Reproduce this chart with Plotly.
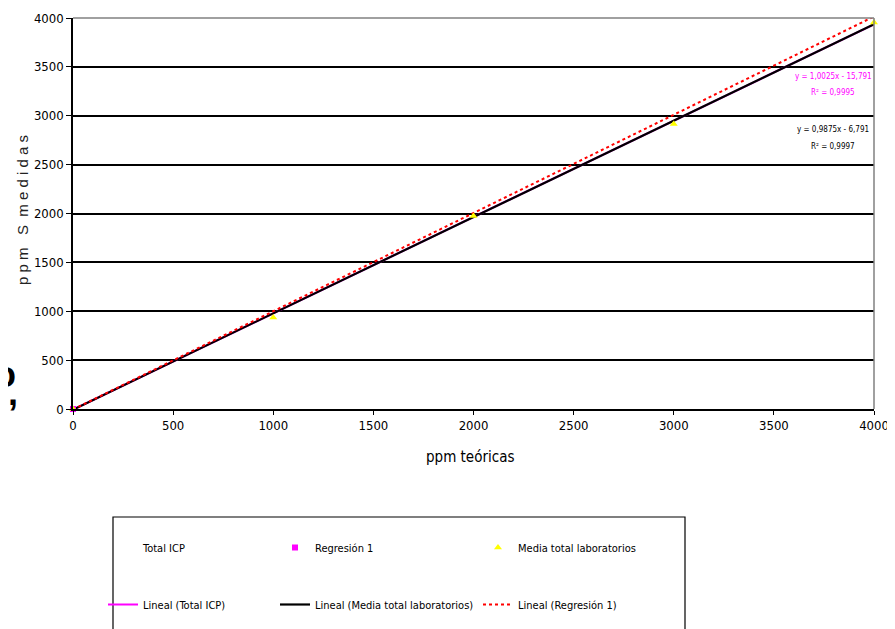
import plotly.graph_objects as go

# ---- data ----
x_points = [0, 1000, 2000, 3000, 4000]
total_icp = [0, 935, 1975, 2915, 3955]
regresion1_x = [0, 4000]
regresion1_y = [0, 4010]
media_total = [0, 935, 1975, 2915, 3955]

trend_x = [0, 4000]
lin_icp = [-7, 3935]
lin_media = [-7, 3935]
lin_regresion = [-5, 4015]

eq_reg = ["y = 1,0025x - 15,791", "R² = 0,9995"]
eq_media = ["y = 0,9875x - 6,791", "R² = 0,9997"]

x_ticks = [0, 500, 1000, 1500, 2000, 2500, 3000, 3500, 4000]
y_ticks = [0, 500, 1000, 1500, 2000, 2500, 3000, 3500, 4000]

FONT = "DejaVu Sans Condensed, Liberation Sans Narrow, Arial Narrow, Liberation Sans, sans-serif"

# page has an 8px body margin, so the figure is shifted by 8px
OFF = 8
W, H = 895 - OFF, 629 - OFF
L, R, T = 73 - OFF, 21, 18 - OFF
B = H - (409 - OFF)
PW = W - L - R
PH = H - T - B

def px2x(px):
    # page pixel -> paper x
    return (px - OFF - L) / PW

def px2y(py):
    # page pixel -> paper y
    return (H - B - (py - OFF)) / PH

fig = go.Figure()

fig.add_trace(go.Scatter(x=x_points, y=total_icp, mode="markers", name="Total ICP",
                         marker=dict(color="rgba(0,0,0,0)", size=6, symbol="square"),
                         legend="legend", legendgroup="a", legendrank=1, cliponaxis=False))
fig.add_trace(go.Scatter(x=trend_x, y=lin_icp, mode="lines", name="Lineal (Total ICP)",
                         line=dict(color="#ff00ff", width=2),
                         legend="legend", legendgroup="b", legendrank=2, cliponaxis=False))
fig.add_trace(go.Scatter(x=trend_x, y=lin_media, mode="lines", name="Lineal (Media total laboratorios)",
                         line=dict(color="#000000", width=2.2),
                         legend="legend2", legendgroup="d", legendrank=2, cliponaxis=False))
fig.add_trace(go.Scatter(x=trend_x, y=lin_regresion, mode="lines", name="Lineal (Regresión 1)",
                         line=dict(color="#ff0000", width=2, dash="dot"),
                         legend="legend3", legendgroup="f", legendrank=2, cliponaxis=False))
fig.add_trace(go.Scatter(x=regresion1_x, y=regresion1_y, mode="markers", name="Regresión 1",
                         marker=dict(color="#ff00ff", size=6, symbol="square"),
                         legend="legend2", legendgroup="c", legendrank=1, cliponaxis=False))
fig.add_trace(go.Scatter(x=x_points, y=media_total, mode="markers", name="Media total laboratorios",
                         marker=dict(color="#ffff00", size=7, symbol="triangle-up"),
                         legend="legend3", legendgroup="e", legendrank=1, cliponaxis=False))

leg_common = dict(orientation="v", xanchor="left", yanchor="top", bgcolor="rgba(0,0,0,0)",
                  font=dict(family=FONT, size=11, color="#000"), tracegroupgap=38,
                  traceorder="grouped", itemwidth=30)

fig.update_layout(
    width=W, height=H,
    margin=dict(l=L, r=R, t=T, b=B, autoexpand=False),
    paper_bgcolor="white", plot_bgcolor="white",
    font=dict(family=FONT, size=12, color="#000"),
    showlegend=True,
    legend=dict(x=px2x(103), y=px2y(533), **leg_common),
    legend2=dict(x=px2x(275), y=px2y(533), **leg_common),
    legend3=dict(x=px2x(478), y=px2y(533), **leg_common),
    xaxis=dict(range=[0, 4000], tickvals=x_ticks, ticktext=[str(v) for v in x_ticks],
               showgrid=False, zeroline=False, showline=True, linecolor="#000", linewidth=1.5,
               ticks="outside", ticklen=4, tickcolor="#000", automargin=False,
               tickfont=dict(family=FONT, size=13), fixedrange=True),
    yaxis=dict(range=[0, 4000], tickvals=y_ticks, ticktext=[str(v) for v in y_ticks],
               showgrid=True, gridcolor="#000", gridwidth=1.5, zeroline=False,
               showline=True, linecolor="#000", linewidth=1.5, automargin=False,
               ticks="outside", ticklen=5, tickcolor="#000",
               tickfont=dict(family=FONT, size=13), fixedrange=True),
)

# plot area border (top and right in grey)
fig.add_shape(type="line", xref="paper", yref="paper", x0=0, x1=1, y0=1, y1=1,
              line=dict(color="#808080", width=1.5))
fig.add_shape(type="line", xref="paper", yref="paper", x0=1, x1=1, y0=0, y1=1,
              line=dict(color="#808080", width=1.5))

# legend box
fig.add_shape(type="rect", xref="paper", yref="paper",
              x0=px2x(113), x1=px2x(685), y0=px2y(650), y1=px2y(517),
              line=dict(color="#000", width=1.2), fillcolor="rgba(0,0,0,0)")

# axis titles
fig.add_annotation(text="ppm teóricas", xref="paper", yref="paper", x=px2x(470), y=px2y(457),
                   xanchor="center", yanchor="middle", showarrow=False,
                   font=dict(family=FONT, size=15, color="#000"))
fig.add_annotation(text="p p m \u00a0 S \u00a0m e d i d a s", xref="paper", yref="paper",
                   x=px2x(22), y=px2y(210), xanchor="center", yanchor="middle",
                   textangle=-90, showarrow=False,
                   font=dict(family="Liberation Sans, Arial, sans-serif", size=15, color="#222"))

# equations
for txt, py, col in [(eq_reg[0], 76, "#ff00ff"), (eq_reg[1], 93, "#ff00ff"),
                     (eq_media[0], 129, "#000"), (eq_media[1], 146, "#000")]:
    fig.add_annotation(text=txt, xref="paper", yref="paper", x=px2x(833), y=px2y(py),
                       xanchor="center", yanchor="middle", showarrow=False,
                       font=dict(family=FONT, size=8, color=col))

# cropped fragment of text at the left edge
fig.add_annotation(text="<b>o</b>", xref="paper", yref="paper", x=px2x(18), y=px2y(374),
                   xanchor="right", yanchor="middle", showarrow=False,
                   font=dict(family="Liberation Sans, Arial, sans-serif", size=36, color="#000"))
fig.add_annotation(text="<b>,</b>", xref="paper", yref="paper", x=px2x(6), y=px2y(392),
                   xanchor="left", yanchor="middle", showarrow=False,
                   font=dict(family="Liberation Sans, Arial, sans-serif", size=36, color="#000"))

fig.write_html("out.html")
